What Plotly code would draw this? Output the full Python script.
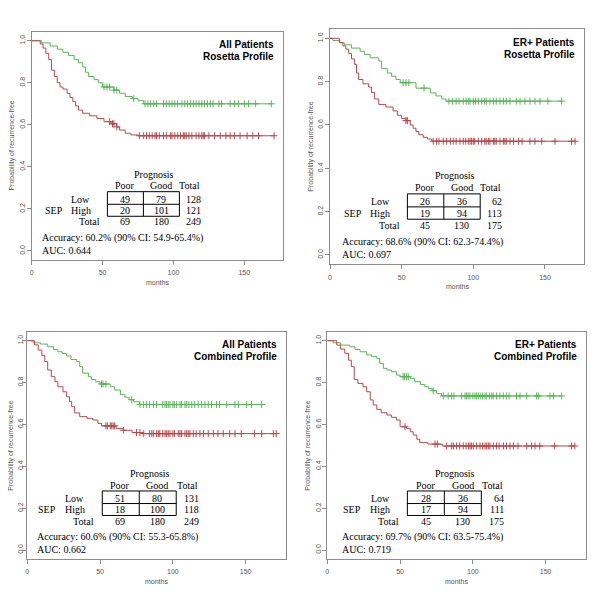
import numpy as np
import plotly.graph_objects as go

GREEN = "#5bb35b"
RED = "#b54a4c"
AXIS_GREY = "#8c8c8c"
TEXT_GREY = "#555555"

# ---- panel 1: All Patients, Rosetta profile ----
p1_good_t = [7, 13, 18, 22, 26, 30, 33, 36, 38, 40, 44, 47, 50, 58, 62, 66, 71, 75, 79]
p1_good_s = [0.99, 0.975, 0.96, 0.945, 0.93, 0.91, 0.895, 0.875, 0.85, 0.83, 0.815, 0.80, 0.78,
             0.765, 0.75, 0.735, 0.725, 0.715, 0.70]
p1_good_cens = [51, 53, 55, 58, 60, 72, 80, 82, 84, 86, 88, 93, 95, 97, 99, 101, 103, 106, 108, 110,
                112, 114, 116, 118, 120, 122, 124, 126, 128, 132, 134, 140, 143, 146, 150, 153, 158, 169]
p1_poor_t = [6, 8, 10, 12, 14, 16, 18, 20, 22, 25, 27, 29, 31, 33, 36, 41, 46, 51, 56, 60, 62, 66, 70, 75]
p1_poor_s = [0.985, 0.965, 0.94, 0.91, 0.86, 0.83, 0.80, 0.78, 0.77, 0.75, 0.73, 0.71, 0.69, 0.67,
             0.655, 0.643, 0.63, 0.615, 0.605, 0.59, 0.575, 0.56, 0.552, 0.548]
p1_poor_cens = [55, 57, 58, 60, 76, 79, 81, 83, 85, 87, 88, 90, 93, 95, 98, 99, 101, 103, 105, 107, 108,
                109, 111, 113, 116, 118, 120, 121, 122, 125, 129, 133, 137, 140, 143, 147, 152, 156, 160, 171]

# ---- panel 2: ER+ Patients, Rosetta profile ----
p2_good_t = [2, 7, 10, 15, 21, 24, 28, 34, 36, 40, 43, 46, 49, 60, 70, 74, 78, 81]
p2_good_s = [0.99, 0.98, 0.97, 0.955, 0.94, 0.925, 0.91, 0.895, 0.86, 0.84, 0.825, 0.81, 0.795,
             0.77, 0.748, 0.734, 0.72, 0.71]
p2_good_cens = [51, 53, 55, 65.6, 83, 85.6, 88, 90, 93, 95, 96.5, 97.7, 100, 101.6, 103.5, 105.8, 107.7,
                109, 111.6, 114, 116, 118.6, 121, 123, 125.6, 130, 132.6, 136, 139.5, 143, 146.5, 152, 161.6]
p2_poor_t = [6.5, 9, 11, 13, 15, 17, 18.5, 20, 23, 27, 29, 31, 34, 39, 44, 47, 50, 53, 56, 58, 60,
             62, 65, 68, 71]
p2_poor_s = [0.98, 0.965, 0.95, 0.93, 0.905, 0.88, 0.84, 0.81, 0.79, 0.775, 0.75, 0.72, 0.695, 0.683,
             0.665, 0.645, 0.63, 0.62, 0.60, 0.585, 0.57, 0.555, 0.543, 0.535, 0.525]
p2_poor_cens = [53, 54, 72, 74.4, 76, 79, 81.4, 84, 86, 88, 90.7, 93, 94.7, 96.5, 97.7, 98.8, 100, 101,
                103.5, 105.8, 108, 109, 110.5, 111.6, 114, 115, 116, 118.6, 121, 122, 123, 125.6, 128,
                131.6, 134, 139.5, 143, 147.7, 157, 168.6, 171]

# ---- panel 3: All Patients, Combined profile ----
p3_good_t = [4, 9, 14, 18, 21, 24, 27, 30, 34, 36, 38, 42, 44, 47, 50, 57, 60, 64, 67, 70, 73, 77]
p3_good_s = [0.99, 0.984, 0.971, 0.958, 0.947, 0.939, 0.927, 0.91, 0.90, 0.876, 0.845, 0.828, 0.815,
             0.804, 0.793, 0.78, 0.764, 0.742, 0.73, 0.718, 0.708, 0.695]
p3_good_cens = [51, 52, 54, 71.7, 77.4, 79.7, 82, 84, 86.6, 88.8, 93, 94.6, 95.7, 96.8, 98, 100, 101,
                102.6, 104.9, 106, 108.3, 109.5, 111, 113, 115, 117.4, 119.8, 122, 124.3, 126.6, 130,
                132, 137, 142.7, 145, 150.7, 154, 161]
p3_poor_t = [5, 7.5, 10, 12, 14, 16.5, 19, 21, 24.5, 27, 29, 30.5, 32.5, 36, 41, 45, 48.5, 51, 61, 66, 72, 79]
p3_poor_s = [0.98, 0.955, 0.93, 0.90, 0.86, 0.828, 0.804, 0.78, 0.756, 0.732, 0.709, 0.685, 0.655,
             0.637, 0.629, 0.621, 0.605, 0.593, 0.58, 0.572, 0.561, 0.556]
p3_poor_cens = [54, 55, 57, 58, 59, 60, 66, 75, 77.4, 80, 84, 85.5, 86.6, 88.8, 90, 91, 93, 94.6, 95.7,
                96.8, 98, 100, 101, 103.7, 104.9, 106, 108.3, 109.5, 110.6, 111.7, 114, 116, 118.6, 121,
                124.3, 127.8, 131, 134.6, 139, 142.7, 147, 156, 161, 169, 171]

# ---- panel 4: ER+ Patients, Combined profile ----
p4_good_t = [4, 9, 15.5, 19, 22.5, 27, 30.5, 34, 36, 38.5, 41, 44, 47.5, 50, 57, 60, 64, 67, 69.5, 72, 75, 78.5]
p4_good_s = [0.99, 0.979, 0.971, 0.958, 0.947, 0.932, 0.924, 0.916, 0.892, 0.868, 0.86, 0.852, 0.836,
             0.828, 0.82, 0.804, 0.791, 0.78, 0.772, 0.761, 0.748, 0.736]
p4_good_cens = [52, 53, 54.5, 55.6, 72.8, 79.7, 83, 85.4, 87, 92.3, 94.6, 95.7, 96.8, 98, 100, 101.4,
                102.6, 103.7, 105, 106.7, 108.3, 109.5, 111.3, 112.9, 114, 116.3, 118.6, 120.9, 123,
                124.9, 130, 132.4, 137, 143.8, 145, 153, 155.3, 161]
p4_poor_t = [6.5, 9, 12, 14.5, 16.5, 18.5, 21, 24.5, 27, 29.5, 31.5, 34, 37, 41, 44, 47.5, 50, 54.5,
             57, 59, 61.5, 63.5, 69, 79]
p4_poor_s = [0.979, 0.96, 0.94, 0.907, 0.876, 0.815, 0.796, 0.78, 0.756, 0.717, 0.693, 0.672, 0.656,
             0.645, 0.634, 0.621, 0.589, 0.581, 0.565, 0.549, 0.529, 0.513, 0.506, 0.497]
p4_poor_cens = [53.4, 74, 75.6, 82, 85.4, 86.6, 88.8, 91, 93.4, 95.3, 96.9, 98, 99, 100.3, 102.6, 104.9,
                106.7, 108.3, 109.5, 110.6, 111.7, 114, 116.3, 118, 121, 123, 125.5, 127.8, 131, 137,
                140.4, 142.7, 146, 156, 167.8, 170]

# ---- text content ----
titles = [("All Patients", "Rosetta Profile"), ("ER+ Patients", "Rosetta Profile"),
          ("All Patients", "Combined Profile"), ("ER+ Patients", "Combined Profile")]
tables = [
    [[49, 79, 128], [20, 101, 121], [69, 180, 249]],
    [[26, 36, 62], [19, 94, 113], [45, 130, 175]],
    [[51, 80, 131], [18, 100, 118], [69, 180, 249]],
    [[28, 36, 64], [17, 94, 111], [45, 130, 175]],
]
accuracy = ["Accuracy: 60.2% (90% CI: 54.9-65.4%)", "Accuracy: 68.6% (90% CI: 62.3-74.4%)",
            "Accuracy: 60.6% (90% CI: 55.3-65.8%)", "Accuracy: 69.7% (90% CI: 63.5-75.4%)"]
auc = ["AUC: 0.644", "AUC: 0.697", "AUC: 0.662", "AUC: 0.719"]

panels = [
    (p1_good_t, p1_good_s, p1_good_cens, p1_poor_t, p1_poor_s, p1_poor_cens),
    (p2_good_t, p2_good_s, p2_good_cens, p2_poor_t, p2_poor_s, p2_poor_cens),
    (p3_good_t, p3_good_s, p3_good_cens, p3_poor_t, p3_poor_s, p3_poor_cens),
    (p4_good_t, p4_good_s, p4_good_cens, p4_poor_t, p4_poor_s, p4_poor_cens),
]

# plot boxes in page pixels (left, right, top, bottom); the page body adds an 8px offset
boxes_px = [(31.7, 283.3, 31.7, 260.0), (330.0, 584.4, 29.0, 264.3),
            (27.3, 285.7, 331.7, 559.0), (327.3, 585.7, 331.7, 559.0)]
PAGE_OFF = 8
W = H = 600
table_left = [53.4, 54.0, 51.5, 55.0]
acc_left = [6.0, 7.0, 5.3, 8.7]
ytitle_shift = [-26, -25, -22, -25]
ytick_standoff = [-1, -1, -3, -1]

SERIF = "Liberation Serif, Times New Roman, serif"
SANS = "Liberation Sans, Arial, sans-serif"


def surv_at(times, surv, t):
    idx = np.searchsorted(np.asarray(times), t, side="right") - 1
    return np.where(idx < 0, 1.0, np.asarray(surv)[np.clip(idx, 0, None)])


fig = go.Figure()
annotations = []
shapes = []

for i, (gt, gs, gc, pt, ps, pc) in enumerate(panels):
    xa = "x" if i == 0 else f"x{i + 1}"
    ya = "y" if i == 0 else f"y{i + 1}"
    for times, surv, cens, color in [(gt, gs, gc, GREEN), (pt, ps, pc, RED)]:
        end = max(cens)
        fig.add_trace(go.Scatter(
            x=[0] + list(times) + [end], y=[1.0] + list(surv) + [surv[-1]],
            mode="lines", line=dict(color=color, width=1, shape="hv"),
            xaxis=xa, yaxis=ya, showlegend=False, hoverinfo="skip"))
        fig.add_trace(go.Scatter(
            x=cens, y=surv_at(times, surv, cens), mode="markers",
            marker=dict(symbol="cross-thin", size=5, line=dict(width=1, color=color)),
            xaxis=xa, yaxis=ya, showlegend=False, hoverinfo="skip"))

    l, r, t, b = boxes_px[i]
    xd = [(l - PAGE_OFF) / W, (r - PAGE_OFF) / W]
    yd = [1 - (b - PAGE_OFF) / H, 1 - (t - PAGE_OFF) / H]
    key = "" if i == 0 else str(i + 1)
    fig.layout[f"xaxis{key}"] = dict(
        domain=xd, range=[0, 177.5], anchor=ya, tickvals=[0, 50, 100, 150], automargin=False,
        showgrid=False, zeroline=False, showline=True, mirror=True, linecolor=AXIS_GREY,
        ticks="outside", ticklen=4, tickcolor=AXIS_GREY,
        tickfont=dict(size=7, color=TEXT_GREY, family=SANS), ticklabelstandoff=2)
    fig.layout[f"yaxis{key}"] = dict(
        domain=yd, range=[-0.043, 1.043], anchor=xa, tickvals=[0, 0.2, 0.4, 0.6, 0.8, 1.0],
        ticktext=["0.0", "0.2", "0.4", "0.6", "0.8", "1.0"], tickangle=-90, automargin=False,
        showgrid=False, zeroline=False, showline=True, mirror=True, linecolor=AXIS_GREY,
        ticks="outside", ticklen=4, tickcolor=AXIS_GREY,
        tickfont=dict(size=7, color=TEXT_GREY, family=SANS), ticklabelstandoff=ytick_standoff[i])

    dref_x, dref_y = f"{xa} domain", f"{ya} domain"
    # axis titles
    annotations.append(dict(text="months", xref=dref_x, yref=dref_y, x=0.5, y=0, yshift=-28,
                            showarrow=False, font=dict(size=7, color=TEXT_GREY, family=SANS)))
    annotations.append(dict(text="Probability of recurrence-free", xref=dref_x, yref=dref_y,
                            x=0, y=0.5, xshift=ytitle_shift[i], textangle=-90, showarrow=False,
                            font=dict(size=7, color=TEXT_GREY, family=SANS)))
    # panel title
    for line, shift in zip(titles[i], [-13, -25]):
        annotations.append(dict(text=f"<b>{line}</b>", xref=dref_x, yref=dref_y, x=1, y=1,
                                xanchor="right", yanchor="middle", xshift=-7, yshift=shift,
                                showarrow=False, font=dict(size=10, color="black", family=SANS)))

    # contingency table
    L = table_left[i]
    tfont = dict(size=10, color="black", family=SERIF)

    def txt(s, x, y, anchor="center"):
        annotations.append(dict(text=s, xref=xa, yref=ya, x=x, y=y, xanchor=anchor,
                                yanchor="middle", showarrow=False, font=tfont))

    txt("Prognosis", L + 33, 0.366)
    txt("Poor", L + 12.5, 0.31)
    txt("Good", L + 37.9, 0.31)
    txt("Total", L + 67, 0.31, "right")
    rows = [("Low", 0.247), ("High", 0.192), ("Total", 0.138)]
    for (lab, yv), vals in zip(rows, tables[i]):
        if lab == "Total":
            txt(lab, L - 12.7, yv)
        else:
            txt(lab, L - 18.8, yv)
        txt(str(vals[0]), L + 12.5, yv)
        txt(str(vals[1]), L + 37.9, yv)
        txt(str(vals[2]), L + 67.6, yv, "right")
    txt("SEP", L - 37.9, 0.192)
    txt(accuracy[i], acc_left[i], 0.062, "left")
    txt(auc[i], acc_left[i], 0.001, "left")

    line = dict(color="black", width=1)
    shapes.append(dict(type="rect", xref=xa, yref=ya, x0=L, x1=L + 50.8, y0=0.165, y1=0.282, line=line))
    shapes.append(dict(type="line", xref=xa, yref=ya, x0=L + 25.4, x1=L + 25.4, y0=0.165, y1=0.282, line=line))
    shapes.append(dict(type="line", xref=xa, yref=ya, x0=L, x1=L + 50.8, y0=0.222, y1=0.222, line=line))

fig.update_layout(
    width=W, height=H, margin=dict(l=0, r=0, t=0, b=0),
    paper_bgcolor="white", plot_bgcolor="white",
    annotations=annotations, shapes=shapes, showlegend=False,
)

fig.write_html("out.html")
